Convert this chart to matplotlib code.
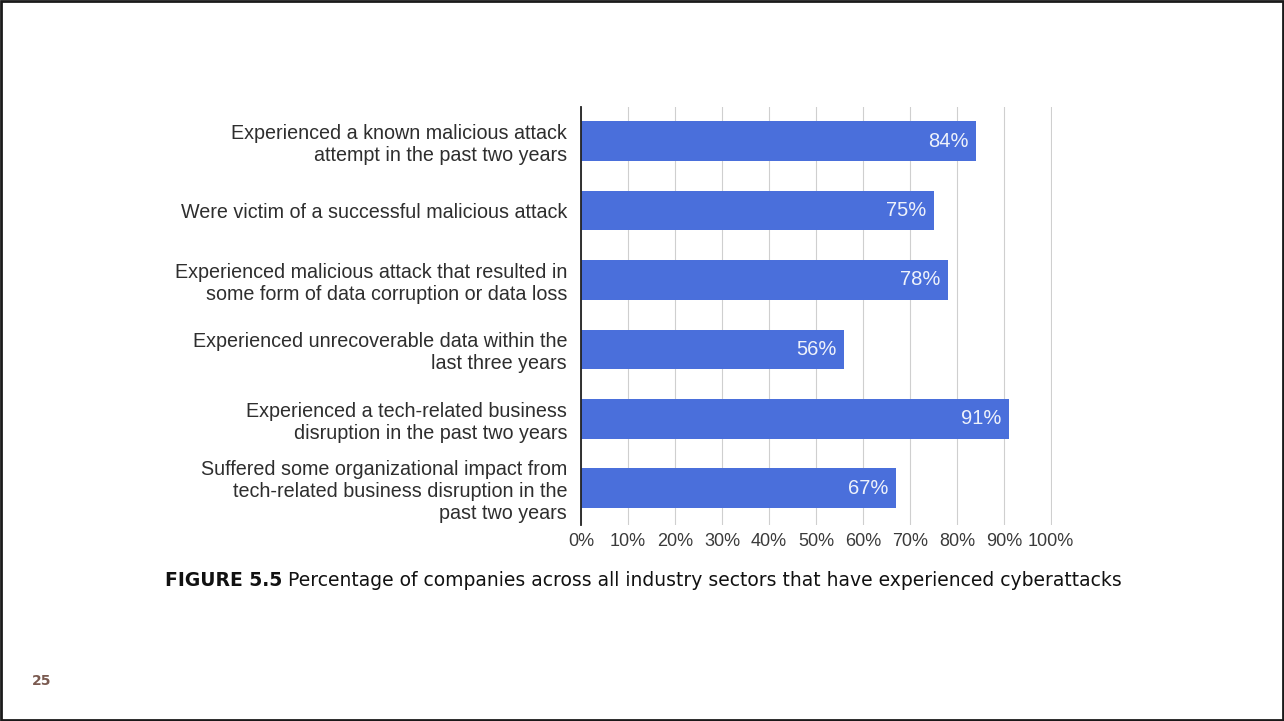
import matplotlib.pyplot as plt
from matplotlib.patches import Rectangle

# dados do gráfico
categorias = [
    "Experienced a known malicious attack\nattempt in the past two years",
    "Were victim of a successful malicious attack",
    "Experienced malicious attack that resulted in\nsome form of data corruption or data loss",
    "Experienced unrecoverable data within the\nlast three years",
    "Experienced a tech-related business\ndisruption in the past two years",
    "Suffered some organizational impact from\ntech-related business disruption in the\npast two years",
]
valores = [84, 75, 78, 56, 91, 67]
ticks_x = [0, 10, 20, 30, 40, 50, 60, 70, 80, 90, 100]
rotulos_x = [f"{t}%" for t in ticks_x]

fig = plt.figure(figsize=(12.84, 7.21), dpi=100)
ax = fig.add_axes([581 / 1284, 1 - 525 / 721, 471 / 1284, 418 / 721])

pos = list(range(len(categorias)))
barras = ax.barh(pos, valores, height=0.57, color="#4a6fdb", zorder=2)

# rótulos dentro das barras
for b, v in zip(barras, valores):
    ax.text(b.get_width() - 1.6, b.get_y() + b.get_height() / 2, f"{v}%",
            ha="right", va="center", color="#eef2fb", fontsize=14.5,
            family="Liberation Sans", zorder=3)

ax.set_xlim(0, 100.2)
ax.set_ylim(5.53, -0.49)
ax.set_xticks(ticks_x)
ax.set_xticklabels(rotulos_x, family="Liberation Sans", fontsize=13, color="#3a3a3a")
ax.set_yticks(pos)
ax.set_yticklabels(categorias, family="Liberation Sans", fontsize=14.2, color="#2e2e2e",
                   linespacing=1.2)
ax.tick_params(axis="both", length=0)
ax.tick_params(axis="y", pad=10)
ax.tick_params(axis="x", pad=6)

ax.grid(axis="x", color="#cfcfcf", linewidth=0.8, zorder=1)
ax.set_axisbelow(True)
for s in ["top", "right", "bottom"]:
    ax.spines[s].set_visible(False)
ax.spines["left"].set_color("#222222")
ax.spines["left"].set_linewidth(1.3)
ax.spines["left"].set_zorder(4)

# legenda da figura
t1 = fig.text(165 / 1284, 1 - 580 / 721, "FIGURE 5.5", fontsize=13.5, fontweight="bold",
              family="DejaVu Sans", va="center", ha="left", color="#111111")
ax.annotate(" Percentage of companies across all industry sectors that have experienced cyberattacks",
            xy=(1, 0.5), xycoords=t1, va="center", ha="left", color="#111111",
            fontsize=13.5, family="DejaVu Sans", annotation_clip=False)

# número da página
fig.text(32 / 1284, 1 - 681 / 721, "25", fontsize=10, fontweight="bold",
         color="#7a5a50", family="DejaVu Sans", va="center", ha="left")

# moldura do slide
fig.patches.append(Rectangle((0.001, 0.001), 0.998, 0.998, transform=fig.transFigure,
                             fill=False, edgecolor="#1a1a1a", linewidth=2))

fig.savefig("out.png", dpi=100)
